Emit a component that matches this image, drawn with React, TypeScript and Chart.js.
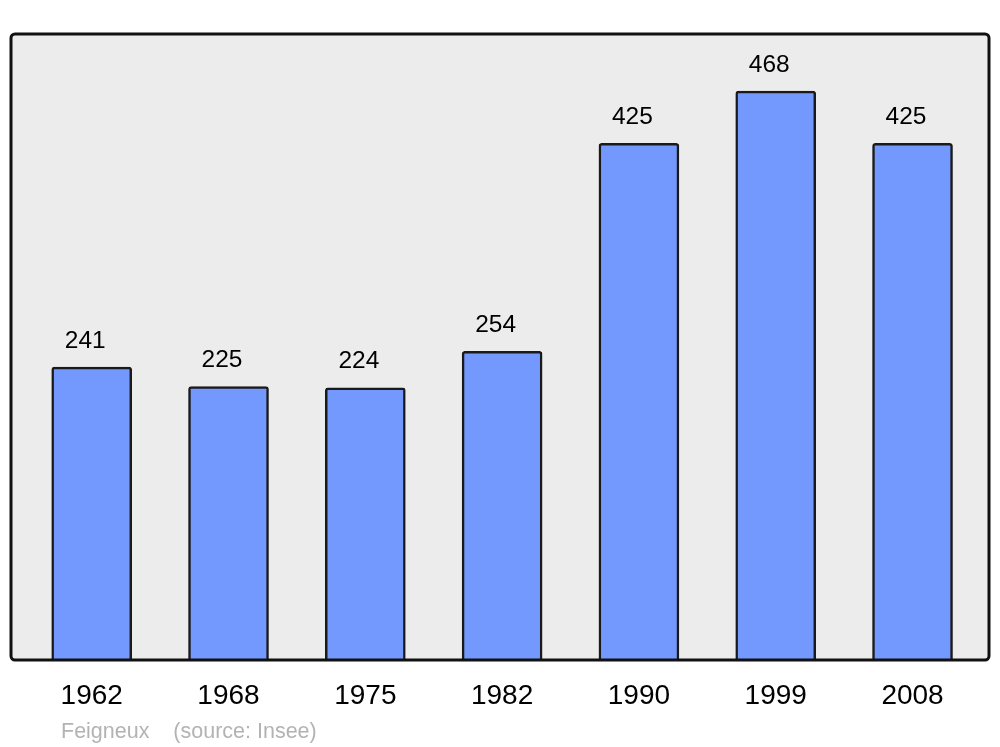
import React, { useEffect, useRef } from "react";
import { Chart, registerables } from "chart.js";

Chart.register(...registerables);

const years: string[] = ["1962", "1968", "1975", "1982", "1990", "1999", "2008"];
const population: number[] = [241, 225, 224, 254, 425, 468, 425];
const sourceText = "Feigneux    (source: Insee)";

const FONT = "'Liberation Sans', Arial, sans-serif";

const framePlugin = {
  id: "frame",
  beforeDatasetsDraw(chart: any) {
    const { ctx, chartArea } = chart;
    const { left, top, right, bottom } = chartArea;
    ctx.save();
    ctx.beginPath();
    (ctx as any).roundRect(left, top, right - left, bottom - top, 4);
    ctx.fillStyle = "#ececec";
    ctx.fill();
    ctx.restore();
  },
  afterDatasetsDraw(chart: any) {
    const { ctx, chartArea } = chart;
    const { left, top, right, bottom } = chartArea;
    ctx.save();
    ctx.beginPath();
    (ctx as any).roundRect(left, top, right - left, bottom - top, 4);
    ctx.lineWidth = 3;
    ctx.strokeStyle = "#111111";
    ctx.stroke();
    // value labels
    const meta = chart.getDatasetMeta(0);
    ctx.fillStyle = "#000000";
    ctx.font = `24.5px ${FONT}`;
    ctx.textAlign = "center";
    ctx.textBaseline = "alphabetic";
    meta.data.forEach((el: any, i: number) => {
      ctx.fillText(String(population[i]), el.x - 6.5, el.y - 19.5);
    });
    // source text
    ctx.fillStyle = "#b3b3b3";
    ctx.font = `21.5px ${FONT}`;
    ctx.textAlign = "left";
    ctx.fillText(sourceText, 61, 738);
    ctx.restore();
  },
};

export default function App() {
  const ref = useRef<HTMLCanvasElement | null>(null);
  useEffect(() => {
    if (!ref.current) return;
    const chart = new Chart(ref.current, {
      type: "bar",
      data: {
        datasets: [
          {
            data: population.map((v, i) => ({ x: i, y: v })),
            backgroundColor: "#7399ff",
            borderColor: "#1a1a1a",
            borderWidth: 2.5,
            borderRadius: { topLeft: 3, topRight: 3, bottomLeft: 0, bottomRight: 0 },
            borderSkipped: "bottom",
            barThickness: 80,
          },
        ],
      },
      options: {
        responsive: false,
        animation: false,
        layout: { padding: { left: 11, right: 11, top: 34, bottom: 0 } },
        plugins: { legend: { display: false }, tooltip: { enabled: false } },
        scales: {
          x: {
            type: "linear",
            offset: false,
            min: -0.59,
            max: 6.559,
            grid: { display: false, drawTicks: false },
            border: { display: false },
            afterBuildTicks(scale: any) {
              scale.ticks = years.map((_, i) => ({ value: i }));
            },
            afterFit(scale: any) {
              scale.height = 87;
            },
            ticks: {
              padding: 19,
              color: "#000000",
              font: { family: FONT, size: 28 },
              maxRotation: 0,
              autoSkip: false,
              callback: (v: any) => years[Math.round(Number(v))] ?? "",
            },
          },
          y: {
            display: false,
            min: 0,
            max: 515,
          },
        },
      },
      plugins: [framePlugin],
    });
    return () => chart.destroy();
  }, []);
  return (
    <div style={{ position: "fixed", left: 0, top: 0, width: 1000, height: 747, background: "#ffffff" }}>
      <canvas ref={ref} width={1000} height={747} style={{ display: "block" }} />
    </div>
  );
}
